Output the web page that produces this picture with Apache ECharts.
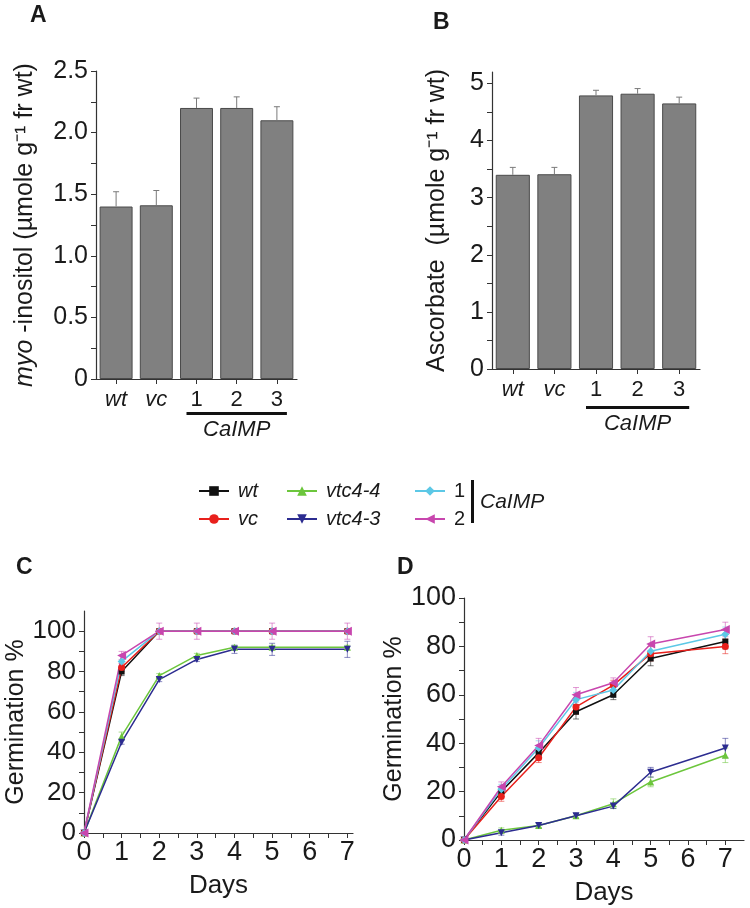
<!DOCTYPE html>
<html>
<head>
<meta charset="utf-8">
<script src="https://cdn.jsdelivr.net/npm/echarts@6/dist/echarts.min.js"></script>
<style>
html, body { margin: 0; padding: 0; background: #fff; }
#main { width: 750px; height: 908px; }
</style>
</head>
<body>
<div id="main"></div>
<script>
// panel A / B
const lines = ['wt', 'vc', '1', '2', '3'];
const inositol = [1.40, 1.41, 2.20, 2.20, 2.10];
const inositolErr = [0.12, 0.12, 0.08, 0.09, 0.11];
const ascorbate = [3.40, 3.41, 4.79, 4.82, 4.65];
const ascorbateErr = [0.13, 0.12, 0.09, 0.09, 0.11];
const inositolTicks = [0, 0.5, 1, 1.5, 2, 2.5];
const ascorbateTicks = [0, 1, 2, 3, 4, 5];

// panel C / D
const days = [0, 1, 2, 3, 4, 5, 7];
const dayTicks = [0, 1, 2, 3, 4, 5, 6, 7];
const germTicks = [0, 20, 40, 60, 80, 100];
const names = ['vtc4-4', 'vtc4-3', 'wt', 'vc', '1', '2'];

const germC = {
  'wt':     [0, 80, 100, 100, 100, 100, 100],
  'vc':     [0, 82, 100, 100, 100, 100, 100],
  '1':      [0, 85, 100, 100, 100, 100, 100],
  '2':      [0, 88, 100, 100, 100, 100, 100],
  'vtc4-4': [0, 48, 78, 88, 92, 92, 92],
  'vtc4-3': [0, 45, 76, 86, 91, 91, 91]
};
const errC = {
  'wt':     [0, 2, 0, 0, 0, 0, 0],
  'vc':     [0, 2, 0, 0, 0, 0, 0],
  '1':      [0, 3, 0, 0, 0, 0, 0],
  '2':      [0, 2, 4, 4, 1, 4, 4],
  'vtc4-4': [0, 2, 1, 1, 1, 1, 1],
  'vtc4-3': [0, 1, 1, 1, 2, 3, 4]
};
const germD = {
  'wt':     [0, 20, 36, 53, 60, 75, 82],
  'vc':     [0, 18, 34, 55, 64, 77, 80],
  '1':      [0, 21, 38, 58, 62, 78, 85],
  '2':      [0, 22, 39, 60, 65, 81, 87],
  'vtc4-4': [0, 4, 6, 10, 15, 24, 35],
  'vtc4-3': [0, 3, 6, 10, 14, 28, 38]
};
const errD = {
  'wt':     [0, 2, 2, 3, 2, 3, 3],
  'vc':     [0, 2, 2, 3, 2, 3, 3],
  '1':      [0, 2, 3, 3, 3, 3, 3],
  '2':      [0, 2, 3, 3, 2, 3, 3],
  'vtc4-4': [0, 1, 1, 1, 2, 2, 3],
  'vtc4-3': [0, 1, 1, 1, 1, 2, 4]
};

const style = {
  'wt':     { color: '#111111', symbol: 'rect', rotate: 0, size: 6 },
  'vc':     { color: '#e8201c', symbol: 'circle', rotate: 0, size: 7 },
  '1':      { color: '#5cc8e6', symbol: 'diamond', rotate: 0, size: 8 },
  '2':      { color: '#c846ae', symbol: 'triangle', rotate: 90, size: 9 },
  'vtc4-4': { color: '#6cc63c', symbol: 'triangle', rotate: 0, size: 7 },
  'vtc4-3': { color: '#2c2c90', symbol: 'triangle', rotate: 180, size: 7 }
};

const FONT = 'Liberation Sans, Arial, sans-serif';
const TXT = '#1a1a1a';

function halves(arr) {
  const out = [];
  arr.forEach((v, i) => {
    out.push(v);
    if (i < arr.length - 1) out.push((v + arr[i + 1]) / 2);
  });
  return out;
}

const axisLine = { show: true, onZero: false, lineStyle: { color: '#333', width: 1.2 } };

function valueY(grid, max, labels, fmt, name, gap, fontSize, rich) {
  return {
    type: 'value', gridIndex: grid, min: 0, max: max,
    axisLine: axisLine,
    axisTick: { show: true, length: 5, customValues: halves(labels), lineStyle: { color: '#333' } },
    axisLabel: { customValues: labels, formatter: fmt, fontSize: fontSize, fontFamily: FONT, color: TXT, margin: 8 },
    splitLine: { show: false },
    name: name, nameLocation: 'middle', nameRotate: 90, nameGap: gap,
    nameTextStyle: { fontSize: 25, fontFamily: FONT, color: TXT, rich: rich || {} }
  };
}

function catX(grid) {
  return {
    type: 'category', gridIndex: grid, data: lines,
    axisLine: axisLine,
    axisTick: { show: true, length: 5, alignWithLabel: true, lineStyle: { color: '#333' } },
    axisLabel: {
      interval: 0, fontSize: 22, fontFamily: FONT, color: TXT, margin: 10,
      formatter: v => (v === 'wt' || v === 'vc') ? '{i|' + v + '}' : v,
      rich: { i: { fontStyle: 'italic', fontSize: 22, fontFamily: FONT, color: TXT } }
    }
  };
}

function dayX(grid, max) {
  return {
    type: 'value', gridIndex: grid, min: 0, max: max,
    axisLine: axisLine,
    axisTick: { show: true, length: 5, customValues: halves(dayTicks), lineStyle: { color: '#333' } },
    axisLabel: { customValues: dayTicks, fontSize: 27, fontFamily: FONT, color: TXT, margin: 6 },
    splitLine: { show: false },
    name: 'Days', nameLocation: 'middle', nameGap: 40,
    nameTextStyle: { fontSize: 26, fontFamily: FONT, color: TXT }
  };
}

function barErr(params, api) {
  const x = api.value(0), v = api.value(1), e = api.value(2);
  const p0 = api.coord([x, v]);
  const p1 = api.coord([x, v + e]);
  const st = { stroke: '#7a7a7a', lineWidth: 1 };
  return {
    type: 'group', children: [
      { type: 'line', shape: { x1: p0[0], y1: p0[1], x2: p1[0], y2: p1[1] }, style: st },
      { type: 'line', shape: { x1: p1[0] - 3, y1: p1[1], x2: p1[0] + 3, y2: p1[1] }, style: st }
    ]
  };
}

function lineErr(color) {
  return function (params, api) {
    const x = api.value(0), v = api.value(1), e = api.value(2);
    if (!e) return null;
    const a = api.coord([x, v - e]);
    const b = api.coord([x, v + e]);
    const st = { stroke: color, lineWidth: 1, opacity: 0.55 };
    return {
      type: 'group', children: [
        { type: 'line', shape: { x1: a[0], y1: a[1], x2: b[0], y2: b[1] }, style: st },
        { type: 'line', shape: { x1: a[0] - 3, y1: a[1], x2: a[0] + 3, y2: a[1] }, style: st },
        { type: 'line', shape: { x1: b[0] - 3, y1: b[1], x2: b[0] + 3, y2: b[1] }, style: st }
      ]
    };
  };
}

const series = [];
[[0, inositol, inositolErr], [1, ascorbate, ascorbateErr]].forEach(([g, vals, errs]) => {
  series.push({
    type: 'bar', xAxisIndex: g, yAxisIndex: g, data: vals, barWidth: '82%',
    itemStyle: { color: '#808080', borderColor: '#4a4a4a', borderWidth: 1 },
    silent: true
  });
  series.push({
    type: 'custom', xAxisIndex: g, yAxisIndex: g, renderItem: barErr,
    data: vals.map((v, i) => [i, v, errs[i]]), z: 3, silent: true
  });
});

[[2, germC, errC], [3, germD, errD]].forEach(([g, set, err]) => {
  names.forEach(n => {
    series.push({
      type: 'custom', xAxisIndex: g, yAxisIndex: g, renderItem: lineErr(style[n].color),
      data: days.map((d, i) => [d, set[n][i], err[n][i]]), z: 1, silent: true
    });
  });
  names.forEach(n => {
    series.push({
      name: n, type: 'line', xAxisIndex: g, yAxisIndex: g,
      data: days.map((d, i) => [d, set[n][i]]),
      symbol: style[n].symbol, symbolRotate: style[n].rotate, symbolSize: style[n].size,
      showSymbol: true,
      lineStyle: { color: style[n].color, width: 1.5 },
      itemStyle: { color: style[n].color },
      z: 2, silent: true
    });
  });
});

function legendBlock(data, left, italic) {
  return {
    data: data, left: left, top: 476, orient: 'vertical',
    itemWidth: 30, itemHeight: 12, itemGap: 8, selectedMode: false,
    textStyle: { fontSize: 20, fontFamily: FONT, color: TXT, fontStyle: italic ? 'italic' : 'normal', padding: [0, 0, 0, 4] }
  };
}

const chart = echarts.init(document.getElementById('main'), null, { renderer: 'canvas' });

chart.setOption({
  animation: false,
  backgroundColor: '#fff',
  grid: [
    { left: 96, top: 71, width: 201, height: 308 },
    { left: 492, top: 72, width: 208, height: 297 },
    { left: 84, top: 611, width: 269, height: 222 },
    { left: 464, top: 598, width: 280, height: 242 }
  ],
  xAxis: [catX(0), catX(1), dayX(2, 7.15), dayX(3, 7.5)],
  yAxis: [
    valueY(0, 2.5, inositolTicks, v => v === 0 ? '0' : v.toFixed(1),
      '{i|myo} -inositol (µmole g⁻¹ fr wt)', 58, 25,
      { i: { fontStyle: 'italic', fontSize: 25, fontFamily: FONT, color: TXT } }),
    valueY(1, 5.2, ascorbateTicks, v => String(v), 'Ascorbate  (µmole g⁻¹ fr wt)', 42, 25),
    valueY(2, 110, germTicks, v => String(v), 'Germination %', 52, 26),
    valueY(3, 100, germTicks, v => String(v), 'Germination %', 46, 27)
  ],
  legend: [
    legendBlock(['wt', 'vc'], 193, true),
    legendBlock(['vtc4-4', 'vtc4-3'], 281, true),
    legendBlock(['1', '2'], 409, false)
  ],
  series: series
});

// annotations: panel letters, CaIMP brackets
const xa1 = chart.convertToPixel({ xAxisIndex: 0 }, '1');
const xa3 = chart.convertToPixel({ xAxisIndex: 0 }, '3');
const xb1 = chart.convertToPixel({ xAxisIndex: 1 }, '1');
const xb3 = chart.convertToPixel({ xAxisIndex: 1 }, '3');

const letter = (t, x, y) => ({
  type: 'text', left: x, top: y,
  style: { text: t, fontSize: 23, fontWeight: 'bold', fontFamily: FONT, fill: TXT }
});
const caimp = (x, y) => ({
  type: 'text', x: x, y: y,
  style: { text: 'CaIMP', fontSize: 22, fontStyle: 'italic', fontFamily: FONT, fill: TXT, align: 'center', verticalAlign: 'middle' }
});

chart.setOption({
  graphic: [
    letter('A', 30, 4),
    letter('B', 433, 11),
    letter('C', 16, 556),
    letter('D', 397, 556),
    { type: 'rect', shape: { x: xa1 - 10, y: 412, width: xa3 - xa1 + 20, height: 3 }, style: { fill: '#111' } },
    caimp((xa1 + xa3) / 2, 430),
    { type: 'rect', shape: { x: xb1 - 10, y: 406, width: xb3 - xb1 + 20, height: 3 }, style: { fill: '#111' } },
    caimp((xb1 + xb3) / 2, 424),
    { type: 'rect', shape: { x: 471, y: 480, width: 3, height: 43 }, style: { fill: '#111' } },
    {
      type: 'text', x: 480, y: 502,
      style: { text: 'CaIMP', fontSize: 21, fontStyle: 'italic', fontFamily: FONT, fill: TXT, verticalAlign: 'middle' }
    }
  ]
});
</script>
</body>
</html>
